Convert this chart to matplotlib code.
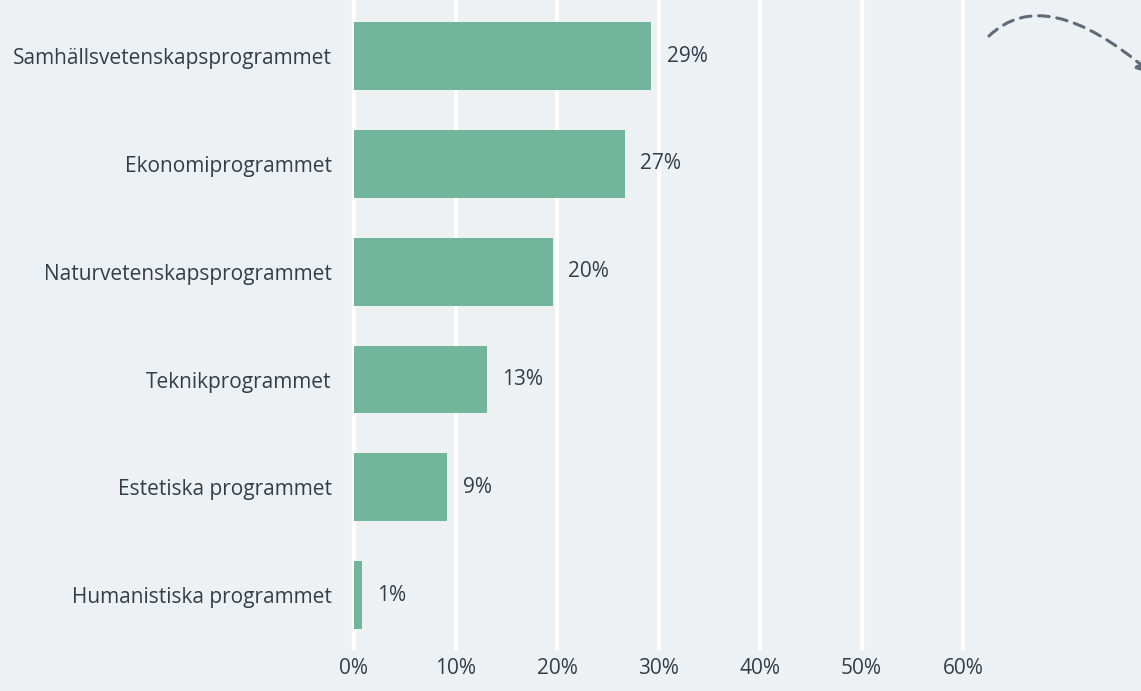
import matplotlib.pyplot as plt
from matplotlib.patches import FancyArrowPatch
from matplotlib.path import Path

programs = ['Samhällsvetenskapsprogrammet', 'Ekonomiprogrammet', 'Naturvetenskapsprogrammet',
            'Teknikprogrammet', 'Estetiska programmet', 'Humanistiska programmet']
shares = [29.3, 26.7, 19.6, 13.1, 9.2, 0.8]
labels = ['29%', '27%', '20%', '13%', '9%', '1%']
ticks = [0, 10, 20, 30, 40, 50, 60]

bg = '#eef1f4'
bar_color = '#72b59a'
text_color = '#333f48'

plt.rcParams['font.family'] = ['Open Sans', 'DejaVu Sans']

fig = plt.figure(figsize=(11.41, 6.91), dpi=100, facecolor=bg)
ax = fig.add_axes([354 / 1141, 1 - 648 / 691, (963 - 354) / 1141, 648 / 691])
ax.set_facecolor(bg)

y = range(len(programs))
ax.barh(y, shares, height=0.63, color=bar_color, zorder=2)
for i, (v, t) in enumerate(zip(shares, labels)):
    ax.text(v + 1.5, i, t, va='center', ha='left', fontsize=15, color=text_color)

ax.set_xlim(0, 60)
ax.set_ylim(5.49, -0.52)
ax.set_xticks(ticks)
ax.set_xticklabels([f'{t}%' for t in ticks])
ax.set_yticks(list(y))
ax.set_yticklabels(programs)
ax.tick_params(length=0, labelsize=15, labelcolor=text_color)
ax.tick_params(axis='y', pad=16)
ax.tick_params(axis='x', pad=7)
for s in ax.spines.values():
    s.set_visible(False)
for t in ticks:
    ax.axvline(t, color='white', lw=3, zorder=1, clip_on=False)

# dashed arc decoration in the top right corner (figure pixels -> fraction)
W, H = 1141, 691
pts = [(989, 36), (1045, -18), (1152, 74)]
pts = [(px / W, 1 - py / H) for px, py in pts]
curve = Path(pts, [Path.MOVETO, Path.CURVE3, Path.CURVE3])
arc = FancyArrowPatch(path=curve, transform=fig.transFigure,
                      arrowstyle='-|>,head_length=9,head_width=4', linestyle=(0, (3.5, 2.5)),
                      color='#5f6b78', lw=2.2, mutation_scale=1)
fig.patches.append(arc)

fig.savefig('out.png', dpi=100, facecolor=bg)
